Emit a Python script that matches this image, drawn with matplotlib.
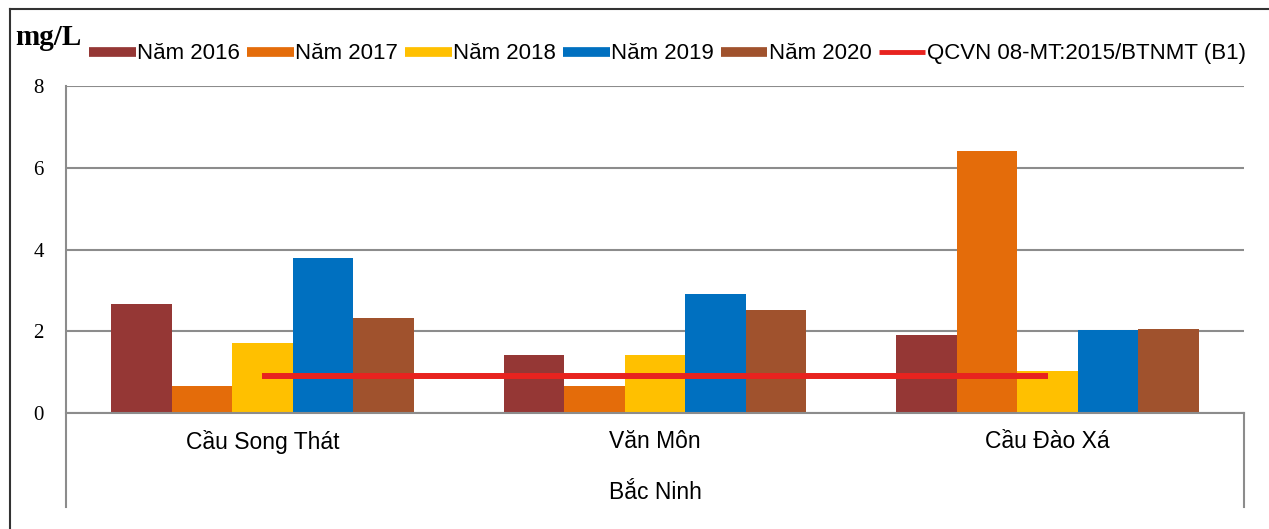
import matplotlib.pyplot as plt
import numpy as np
from matplotlib.lines import Line2D

# Datos
diem = ['Cầu Song Thát', 'Văn Môn', 'Cầu Đào Xá']
nam = ['Năm 2016', 'Năm 2017', 'Năm 2018', 'Năm 2019', 'Năm 2020']
gia_tri = [
    [2.67, 1.42, 1.91],   # 2016
    [0.65, 0.65, 6.40],   # 2017
    [1.71, 1.42, 1.03],   # 2018
    [3.79, 2.91, 2.03],   # 2019
    [2.33, 2.52, 2.06],   # 2020
]
qcvn = [0.9, 0.9, 0.9]
nhan_qcvn = 'QCVN 08-MT:2015/BTNMT (B1)'
mau = ['#953735', '#E46C0A', '#FFC000', '#0070C0', '#A0522D']

fig = plt.figure(figsize=(12.69, 5.29), dpi=100)
ax = fig.add_axes([0.052, 0.2193, 0.9283, 0.6181])

x = np.arange(len(diem))
w = 0.154
for i, vals in enumerate(gia_tri):
    ax.bar(x + (i - 2) * w, vals, width=w, color=mau[i], zorder=3)
ax.plot(x, qcvn, color='#E8231F', lw=4.3, zorder=4, solid_capstyle='butt')

ax.set_xlim(-0.5, 2.5)
ax.set_ylim(0, 8)
ax.set_yticks([0, 2, 4, 6, 8])
ax.yaxis.grid(True, color='#8c8c8c', lw=1.5, zorder=0)
ax.tick_params(axis='y', length=0, pad=16, labelsize=15)
for t in ax.get_yticklabels():
    t.set_family('Liberation Serif')
ax.set_xticks(x)
ax.set_xticklabels(diem, fontsize=16.5, family='Liberation Sans')
ax.tick_params(axis='x', length=0, pad=12)
for s in ['top', 'right', 'bottom', 'left']:
    ax.spines[s].set_visible(False)

# lineas del eje
g = '#8c8c8c'
ax.add_line(Line2D([0, 0], [-0.287, 1], transform=ax.transAxes, color=g, lw=1.5, clip_on=False))
ax.add_line(Line2D([0, 1], [0, 0], transform=ax.transAxes, color=g, lw=1.5, clip_on=False, zorder=5))
ax.add_line(Line2D([1, 1], [-0.287, 0], transform=ax.transAxes, color=g, lw=1.5, clip_on=False))
ax.text(0.5, -0.242, 'Bắc Ninh', transform=ax.transAxes, ha='center', va='center',
        fontsize=16.5, family='Liberation Sans')

fig.text(0.012, 0.93, 'mg/L', fontsize=21, fontweight='bold', family='Liberation Serif',
         va='center', ha='left')

handles = [Line2D([], [], color=c, lw=7, solid_capstyle='butt') for c in mau]
handles.append(Line2D([], [], color='#E8231F', lw=3.5, solid_capstyle='butt'))
fig.legend(handles, nam + [nhan_qcvn], loc='center', bbox_to_anchor=(0.526, 0.898),
           ncol=6, frameon=False, handlelength=2.1, handletextpad=0.08,
           columnspacing=0.3, prop={'family': 'Liberation Sans', 'size': 16})

# marco exterior
fig.add_artist(Line2D([0.008, 0.008], [0, 0.983], transform=fig.transFigure, color='#333333', lw=1.5))
fig.add_artist(Line2D([0.008, 1], [0.983, 0.983], transform=fig.transFigure, color='#333333', lw=1.5))

fig.savefig('out.png', dpi=100, facecolor='white')
